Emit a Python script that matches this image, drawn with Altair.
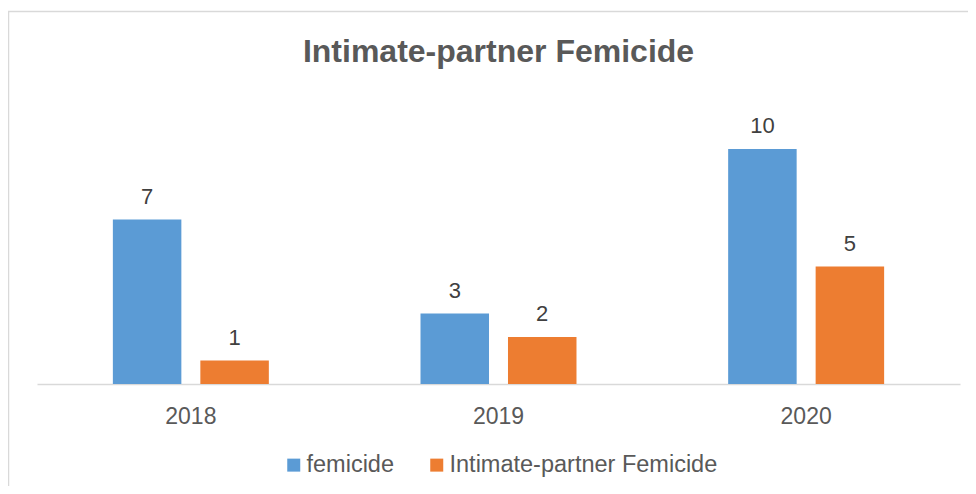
import altair as alt
import pandas as pd

years = ["2018", "2019", "2020"]
series = ["femicide", "Intimate-partner Femicide"]
femicide = [7, 3, 10]
intimate = [1, 2, 5]
colors = ["#5B9BD5", "#ED7D31"]
title_text = "Intimate-partner Femicide"

rows = []
for i, yr in enumerate(years):
    rows.append({"year": yr, "series": series[0], "value": femicide[i]})
    rows.append({"year": yr, "series": series[1], "value": intimate[i]})
df = pd.DataFrame(rows)

FONT = "Liberation Sans"

x = alt.X(
    "year:N", sort=years, title=None,
    scale=alt.Scale(paddingInner=0.493, paddingOuter=0.2466),
    axis=alt.Axis(labelAngle=0, ticks=False, tickSize=0, domainColor="#D9D9D9",
                  domainWidth=1.5, labelFontSize=23, labelColor="#595959",
                  labelPadding=21, labelFont=FONT, grid=False),
)
xo = alt.XOffset("series:N", sort=series, scale=alt.Scale(paddingInner=0.217, paddingOuter=0))
y = alt.Y("value:Q", scale=alt.Scale(domain=[0, 12], nice=False), axis=None)

one = alt.Data(values=[{"a": 1}])

border = alt.Chart(one).mark_rect(
    fillOpacity=0, stroke="#D9D9D9", strokeWidth=1.5
).encode(x=alt.value(-28.5), x2=alt.value(1200), y=alt.value(-90.5), y2=alt.value(1200))

title = alt.Chart(one).mark_text(
    fontSize=32, fontWeight="bold", color="#595959", font=FONT,
    align="center", baseline="alphabetic",
).encode(x=alt.value(461.5), y=alt.value(-40), text=alt.value(title_text))

bars = alt.Chart(df).mark_bar().encode(
    x=x, xOffset=xo, y=y,
    color=alt.Color(
        "series:N", sort=series,
        scale=alt.Scale(domain=series, range=colors),
        legend=alt.Legend(
            orient="none", legendX=245, legendY=351, direction="horizontal",
            title=None, symbolType="square", symbolSize=169, symbolStrokeWidth=0,
            labelFontSize=23.5, labelColor="#595959", labelFont=FONT, labelLimit=500,
            columnPadding=30, labelOffset=1, padding=0,
        ),
    ),
)

labels = alt.Chart(df).mark_text(
    dy=-16, baseline="alphabetic", fontSize=22, color="#404040", font=FONT
).encode(x=x, xOffset=xo, y=y, text="value:Q")

chart = alt.layer(border, title, bars, labels).properties(
    width=923, height=282,
    autosize=alt.AutoSizeParams(type="none"),
    padding={"left": 29, "top": 94, "right": 8, "bottom": 102},
).configure_view(stroke=None)

chart.save("out.html", embed_options={"renderer": "svg", "actions": False})
